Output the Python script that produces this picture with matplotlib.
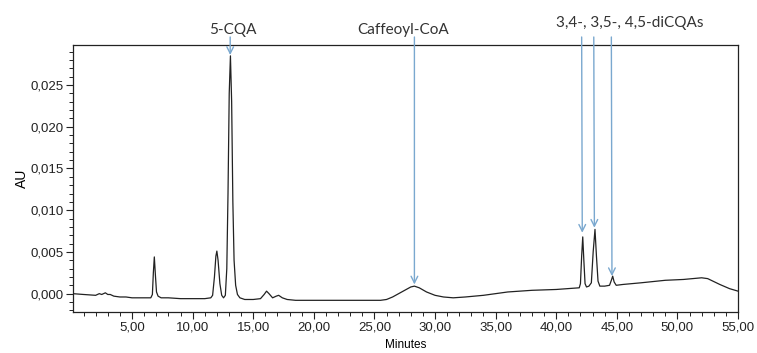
import matplotlib
matplotlib.use("Agg")
import matplotlib.pyplot as plt
from matplotlib.ticker import MultipleLocator, FuncFormatter

# chromatogram trace (minutes, AU)
minutes = [
    0.1, 1.0, 2.0, 2.3, 2.5, 2.8, 3.0, 3.2, 3.5, 4.0, 4.5, 5.0, 6.0,
    6.55, 6.68, 6.76, 6.84, 6.93, 7.02, 7.15, 7.4, 8.0, 9.0, 10.0, 11.0,
    11.5, 11.65, 11.8, 11.92, 12.0, 12.1, 12.25, 12.4, 12.55, 12.7,
    12.82, 12.92, 13.02, 13.12, 13.22, 13.32, 13.42, 13.55, 13.7, 13.9,
    14.3, 15.0, 15.6, 15.9, 16.1, 16.3, 16.6, 16.9, 17.1, 17.4, 17.8,
    18.5, 20.0, 22.0, 24.0, 25.5, 26.0, 26.5, 27.0, 27.5, 28.0, 28.3,
    28.7, 29.3, 30.0, 30.7, 31.5, 32.5, 34.0, 35.0, 36.0, 38.0, 40.0,
    41.9, 42.0, 42.1, 42.19, 42.28, 42.38, 42.5, 42.7, 42.9, 43.05,
    43.2, 43.32, 43.45, 43.6, 44.0, 44.4, 44.55, 44.66, 44.78, 44.95,
    45.5, 47.0, 49.0, 50.5, 52.0, 52.5, 53.5, 54.3, 55.0,
]
au = [
    0.0000, -0.0001, -0.0002, 0.0000, -0.0001, 0.0001, -0.0001, -0.0001,
    -0.0003, -0.0004, -0.0004, -0.0005, -0.0005,
    -0.0005, -0.0001, 0.0025, 0.0044, 0.0022, 0.0002, -0.0003, -0.0005,
    -0.0005, -0.0006, -0.0006, -0.0006,
    -0.0005, -0.0002, 0.0020, 0.0045, 0.0051, 0.0040, 0.0012, -0.0002,
    -0.0005, -0.0002,
    0.0030, 0.0120, 0.0240, 0.0285, 0.0230, 0.0110, 0.0040, 0.0010,
    -0.0001, -0.0005,
    -0.0007, -0.0007, -0.0006, -0.0001, 0.0003, 0.0000, -0.0005, -0.0003,
    -0.0002, -0.0005, -0.0007,
    -0.0008, -0.0008, -0.0008, -0.0008, -0.0008, -0.0007, -0.0004, 0.0000,
    0.0004, 0.0008, 0.0009,
    0.0007, 0.0002, -0.0002, -0.0004, -0.0005, -0.0004, -0.0002, 0.0000,
    0.0002, 0.0004, 0.0005,
    0.0007, 0.0012, 0.0045, 0.0068, 0.0040, 0.0012, 0.0008, 0.0009,
    0.0013, 0.0050,
    0.0077, 0.0045, 0.0015, 0.0009, 0.0009, 0.0010, 0.0016, 0.0021,
    0.0014, 0.0010,
    0.0011, 0.0013, 0.0016, 0.0017, 0.0019, 0.0018, 0.0011, 0.0006, 0.0003,
]

# peak labels: text, text x, arrow tips (x, y)
label_texts = ["5-CQA", "Caffeoyl-CoA", "3,4-, 3,5-, 4,5-diCQAs"]
label_x = [13.3, 27.4, 46.1]
label_tips = [
    [(13.1, 0.0286)],
    [(28.3, 0.0011)],
    [(42.15, 0.0073), (43.15, 0.0079), (44.6, 0.0021)],
]

plt.rcParams['font.family'] = ['Liberation Sans', 'DejaVu Sans']

fig = plt.figure(figsize=(7.57, 3.53), dpi=100)
ax = fig.add_axes([73 / 757, 41 / 353, 665 / 757, 267 / 353])

ax.plot(minutes, au, color='#222222', linewidth=0.9)

ax.set_xlim(0.13, 55.0)
ax.set_ylim(-0.0022, 0.0298)

ax.xaxis.set_major_locator(MultipleLocator(5))
ax.xaxis.set_minor_locator(MultipleLocator(1))
ax.yaxis.set_major_locator(MultipleLocator(0.005))
ax.yaxis.set_minor_locator(MultipleLocator(0.001))

ax.xaxis.set_major_formatter(FuncFormatter(lambda v, p: f"{v:.2f}".replace('.', ',') if v > 0 else ""))
ax.yaxis.set_major_formatter(FuncFormatter(lambda v, p: f"{v:.3f}".replace('.', ',').replace('-', '')))

ax.tick_params(axis='both', which='major', direction='out', length=5, width=0.8,
               labelsize=9.5, colors='#222222', pad=2)
ax.tick_params(axis='both', which='minor', direction='out', length=3, width=0.6)
ax.tick_params(top=False, right=False, which='both')

for s in ax.spines.values():
    s.set_linewidth(0.9)
    s.set_color('#222222')

ax.set_xlabel('Minutes', fontsize=8.5, labelpad=4)
ax.set_ylabel('AU', fontsize=10, labelpad=1)

arrow_col = '#7aa8cf'
for text, tx, tips in zip(label_texts, label_x, label_tips):
    ty = 1.082 if len(tips) > 1 else 1.056
    ax.text(tx, ty, text, transform=ax.get_xaxis_transform(), ha='center', va='center',
            fontsize=11, color='#333333', family=['Lato', 'DejaVu Sans'])
    for (px, py) in tips:
        ax.annotate('', xy=(px, py), xycoords='data',
                    xytext=(px - 0.05 * (len(tips) > 1), 1.03), textcoords=ax.get_xaxis_transform(),
                    arrowprops=dict(arrowstyle='->', color=arrow_col, lw=1.0,
                                    shrinkA=0, shrinkB=0, mutation_scale=12),
                    annotation_clip=False)

fig.savefig('out.png', dpi=100)
